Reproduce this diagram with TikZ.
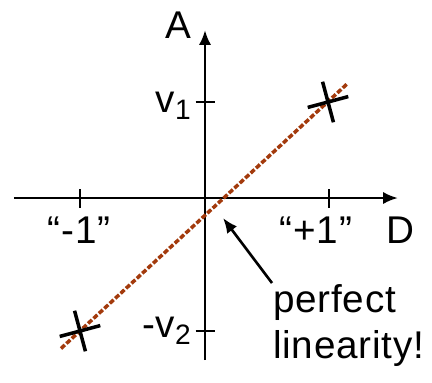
\documentclass[tikz,border=0pt]{standalone}
\usepackage{fontspec}
\setmainfont[LetterSpace=2]{Liberation Sans}
\usepackage{xcolor}
\usepackage{tikz}
\usetikzlibrary{arrows.meta}
\definecolor{rust}{RGB}{163,58,12}
\newcommand{\sub}[1]{\raisebox{-4pt}{\fontsize{16}{16}\selectfont #1}}

\begin{document}
\begin{tikzpicture}[>={Latex[length=8.5pt,width=7pt]},line width=1.5pt,
  font=\fontsize{22}{26}\selectfont,
  lab/.style={inner sep=0pt}]
\useasboundingbox (-4.1,-3.68) rectangle (4.54,3.96);
\draw[->](-3.82,0)--(3.86,0);
\draw[->](0,-3.24)--(0,3.36);
\draw(-2.5,-0.19)--(-2.5,0.19);
\draw(2.48,-0.19)--(2.48,0.19);
\draw(-0.19,1.92)--(0.19,1.92);
\draw(-0.19,-2.66)--(0.19,-2.66);
\draw[rust,line width=2pt,dash pattern=on 3pt off 1.2pt](-2.88,-3.01)--(2.84,2.28);
\foreach \p in {(2.46,1.92),(-2.5,-2.66)}
  \draw[line width=2pt,shift={\p},rotate=15](-0.42,0)--(0.42,0)(0,-0.42)--(0,0.42);
\node[lab,anchor=base](A) at (-0.54,3.2) {A};
\node[lab,anchor=base west](D) at (3.6,-0.9) {D};
\node[lab,anchor=base](m1) at (-2.52,-0.9) {“-1”};
\node[lab,anchor=base](p1) at (2.22,-0.9) {“+1”};
\node[lab,anchor=base east](v1) at (-0.26,1.72) {v\sub{1}};
\node[lab,anchor=base east](v2) at (-0.26,-2.78) {-v\sub{2}};
\node[lab,anchor=base west,align=left](note) at (1.34,-3.2) {perfect\\linearity!};
\coordinate (aim) at (0.36,-0.4);
\draw[->](note.north west)--(aim);
\end{tikzpicture}
\end{document}
